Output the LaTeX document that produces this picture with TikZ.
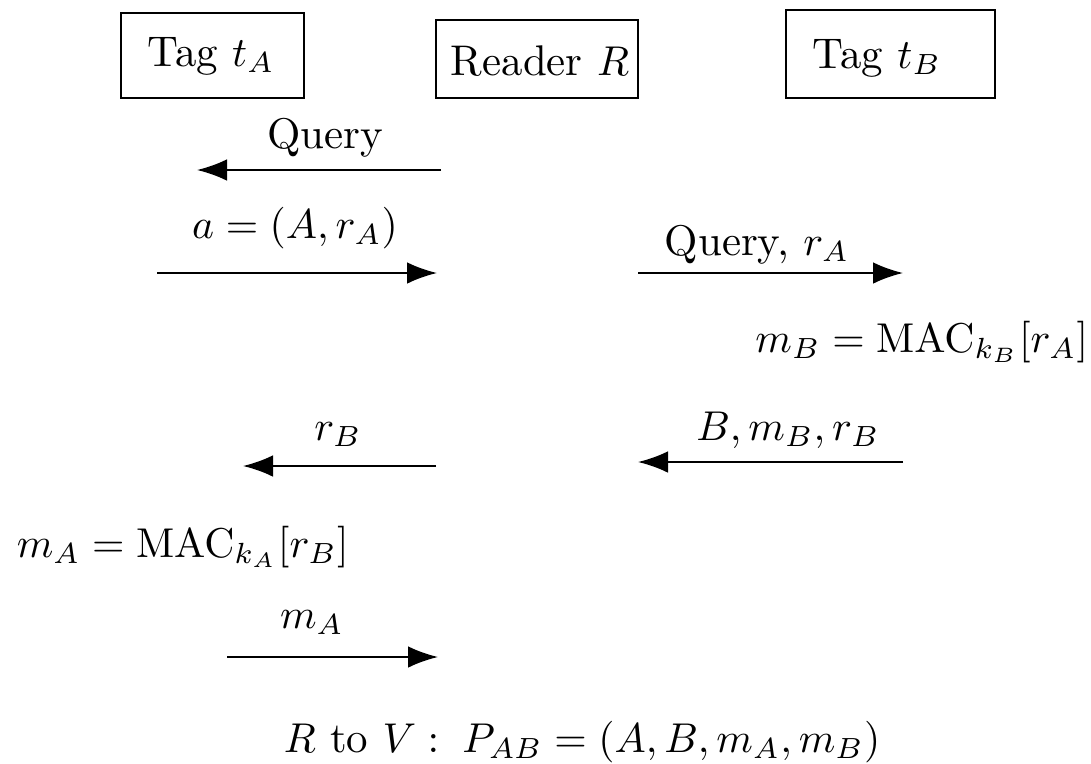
\documentclass[tikz,border=0pt]{standalone}
\usetikzlibrary{arrows.meta}
\begin{document}
\begin{tikzpicture}[x=0.24pt,y=-0.24pt,
  font=\fontsize{10.3pt}{12.4pt}\selectfont,
  party/.style={draw,line width=0.5pt,inner sep=0pt},
  msg/.style={line width=0.5pt,-{Latex[length=7.2pt,width=5.2pt]}},
  lbl/.style={anchor=base,inner sep=0pt}]
\useasboundingbox (0,0) rectangle (1091,764);
% parties
\node[party,minimum width=43.9pt,minimum height=20.4pt] (tA) at (212.5,55.5) {};
\node[lbl] (tAt) at (211,66) {Tag $t_A$};
\node[party,minimum width=48.5pt,minimum height=18.7pt] (R) at (537,59) {};
\node[lbl] (Rt) at (540,75) {Reader $R$};
\node[party,minimum width=50.2pt,minimum height=21.1pt] (tB) at (890.5,54) {};
\node[lbl] (tBt) at (877,68) {Tag $t_B$};
% arrow end points
\coordinate (q1s) at (441,170); \coordinate (q1e) at (197,170);
\coordinate (a1s) at (157,273); \coordinate (a1e) at (437,273);
\coordinate (q2s) at (638,273); \coordinate (q2e) at (903,273);
\coordinate (b1s) at (903,462); \coordinate (b1e) at (638,462);
\coordinate (r1s) at (436,466); \coordinate (r1e) at (243,466);
\coordinate (m1s) at (227,657); \coordinate (m1e) at (438,657);
% messages
\draw[msg] (q1s) -- (q1e);
\node[lbl] (lq1) at (325,148) {Query};
\draw[msg] (a1s) -- (a1e);
\node[lbl] (la1) at (295,238) {$a=(A,r_A)$};
\draw[msg] (q2s) -- (q2e);
\node[lbl] (lq2) at (757,255) {Query, $r_A$};
\node[lbl,anchor=base east] (mB) at (1089,352) {$m_B=\mathrm{MAC}_{k_B}[r_A]$};
\draw[msg] (b1s) -- (b1e);
\node[lbl] (lb1) at (788,440) {$B,m_B,r_B$};
\draw[msg] (r1s) -- (r1e);
\node[lbl] (lr1) at (338,440) {$r_B$};
\node[lbl,anchor=base west] (mA) at (16,557) {$m_A=\mathrm{MAC}_{k_A}[r_B]$};
\draw[msg] (m1s) -- (m1e);
\node[lbl] (lm1) at (312,628) {$m_A$};
\node[lbl,anchor=base west] (fin) at (283,752) {$R$ to $V:\;P_{AB}=(A,B,m_A,m_B)$};
\end{tikzpicture}
\end{document}
